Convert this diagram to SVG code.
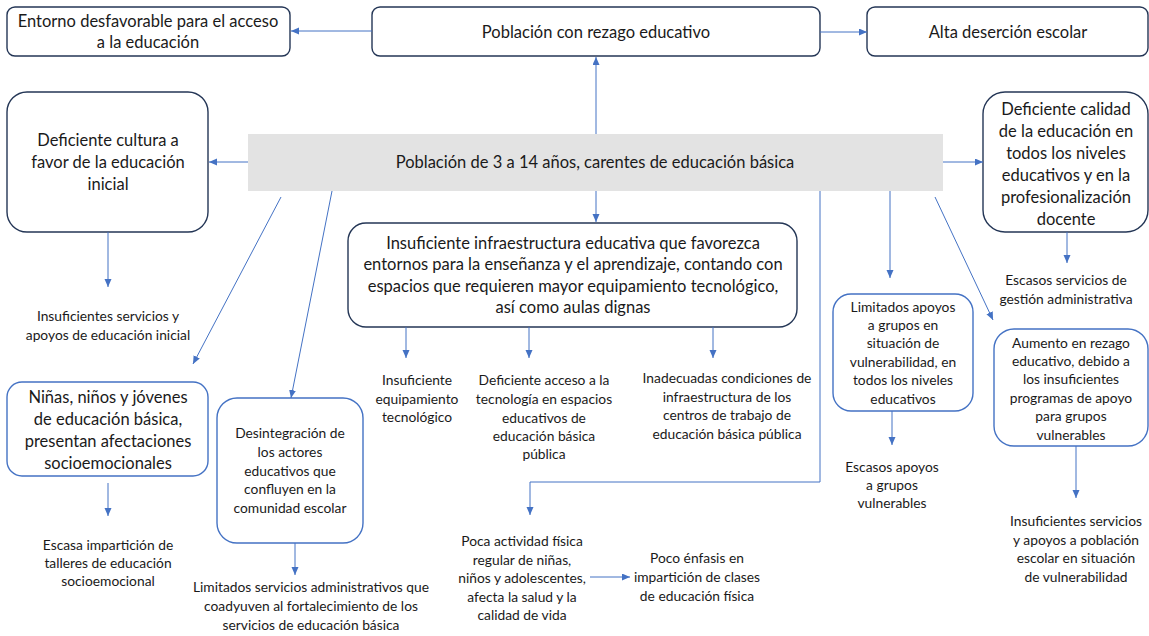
<svg xmlns="http://www.w3.org/2000/svg" width="1149" height="636" viewBox="0 0 1149 636">
<style>
.bg{fill:#ffffff}
.dk{fill:#ffffff;stroke:#243656;stroke-width:1.4}
.bl{fill:#ffffff;stroke:#4472c4;stroke-width:1.4}
.gr{fill:#e3e3e3;stroke:none}
.t{font-family:Lato,"Open Sans","Liberation Sans",sans-serif;fill:#1a1a1a;text-anchor:middle}
.L{font-size:16.5px}
.S{font-size:13.8px}
.c{fill:none;stroke:#4472c4;stroke-width:1}
</style>
<defs>
<marker id="ah" markerUnits="userSpaceOnUse" markerWidth="9" markerHeight="8" refX="8" refY="3.5" orient="auto">
<path d="M0,0 L8,3.5 L0,7 z" fill="#4472c4"/>
</marker>
</defs>
<rect class="bg" width="1149" height="636"/>

<g id="entorno">
<rect class="dk" x="7" y="7" width="283" height="49" rx="8"/>
<text class="t L" x="148" y="27">Entorno desfavorable para el acceso</text>
<text class="t L" x="148" y="48">a la educación</text>
</g>
<g id="poblacion-rezago">
<rect class="dk" x="372" y="7" width="448" height="49" rx="8"/>
<text class="t L" x="596" y="38">Población con rezago educativo</text>
</g>
<g id="alta-desercion">
<rect class="dk" x="867" y="7" width="281" height="49" rx="8"/>
<text class="t L" x="1008" y="38">Alta deserción escolar</text>
</g>
<g id="poblacion-central">
<rect class="gr" x="248" y="134" width="695" height="57"/>
<text class="t L" x="595" y="168">Población de 3 a 14 años, carentes de educación básica</text>
</g>
<g id="deficiente-cultura">
<rect class="dk" x="7" y="92" width="201" height="140" rx="20"/>
<text class="t L" x="108" y="146">Deficiente cultura a</text>
<text class="t L" x="108" y="168">favor de la educación</text>
<text class="t L" x="108" y="190">inicial</text>
</g>
<g id="insuf-inicial">
<text class="t S" x="108" y="321">Insuficientes servicios y</text>
<text class="t S" x="108" y="340">apoyos de educación inicial</text>
</g>
<g id="ninas">
<rect class="bl" x="7" y="382" width="201" height="94" rx="15"/>
<text class="t L" x="108" y="403">Niñas, niños y jóvenes</text>
<text class="t L" x="108" y="425">de educación básica,</text>
<text class="t L" x="108" y="447">presentan afectaciones</text>
<text class="t L" x="108" y="469">socioemocionales</text>
</g>
<g id="escasa-talleres">
<text class="t S" x="108" y="550">Escasa impartición de</text>
<text class="t S" x="108" y="568">talleres de educación</text>
<text class="t S" x="108" y="586">socioemocional</text>
</g>
<g id="desintegracion">
<rect class="bl" x="217" y="398" width="146" height="145" rx="20"/>
<text class="t S" x="290" y="438">Desintegración de</text>
<text class="t S" x="290" y="457">los actores</text>
<text class="t S" x="290" y="476">educativos que</text>
<text class="t S" x="290" y="494">confluyen en la</text>
<text class="t S" x="290" y="513">comunidad escolar</text>
</g>
<g id="limitados-admin">
<text class="t S" x="311" y="592">Limitados servicios administrativos que</text>
<text class="t S" x="311" y="611">coadyuven al fortalecimiento de los</text>
<text class="t S" x="311" y="630">servicios de educación básica</text>
</g>
<g id="infraestructura">
<rect class="dk" x="348" y="223" width="449" height="104" rx="18"/>
<text class="t L" x="573" y="249">Insuficiente infraestructura educativa que favorezca</text>
<text class="t L" x="573" y="270">entornos para la enseñanza y el aprendizaje, contando con</text>
<text class="t L" x="573" y="292">espacios que requieren mayor equipamiento tecnológico,</text>
<text class="t L" x="573" y="313">así como aulas dignas</text>
</g>
<g id="insuf-equip">
<text class="t S" x="417" y="385">Insuficiente</text>
<text class="t S" x="417" y="404">equipamiento</text>
<text class="t S" x="417" y="422">tecnológico</text>
</g>
<g id="def-acceso">
<text class="t S" x="544" y="385">Deficiente acceso a la</text>
<text class="t S" x="544" y="404">tecnología en espacios</text>
<text class="t S" x="544" y="423">educativos de</text>
<text class="t S" x="544" y="441">educación básica</text>
<text class="t S" x="544" y="459">pública</text>
</g>
<g id="inadecuadas">
<text class="t S" x="727" y="383">Inadecuadas condiciones de</text>
<text class="t S" x="727" y="402">infraestructura de los</text>
<text class="t S" x="727" y="420">centros de trabajo de</text>
<text class="t S" x="727" y="439">educación básica pública</text>
</g>
<g id="poca-actividad">
<text class="t S" x="522" y="546">Poca actividad física</text>
<text class="t S" x="522" y="565">regular de niñas,</text>
<text class="t S" x="522" y="583">niños y adolescentes,</text>
<text class="t S" x="522" y="602">afecta la salud y la</text>
<text class="t S" x="522" y="620">calidad de vida</text>
</g>
<g id="poco-enfasis">
<text class="t S" x="697" y="563">Poco énfasis en</text>
<text class="t S" x="697" y="582">impartición de clases</text>
<text class="t S" x="697" y="601">de educación física</text>
</g>
<g id="limitados-apoyos">
<rect class="bl" x="833" y="294" width="140" height="117" rx="18"/>
<text class="t S" x="903" y="312">Limitados apoyos</text>
<text class="t S" x="903" y="330">a grupos en</text>
<text class="t S" x="903" y="348">situación de</text>
<text class="t S" x="903" y="367">vulnerabilidad, en</text>
<text class="t S" x="903" y="385">todos los niveles</text>
<text class="t S" x="903" y="404">educativos</text>
</g>
<g id="escasos-apoyos">
<text class="t S" x="892" y="472">Escasos apoyos</text>
<text class="t S" x="892" y="490">a grupos</text>
<text class="t S" x="892" y="508">vulnerables</text>
</g>
<g id="deficiente-calidad">
<rect class="dk" x="983" y="92" width="165" height="140" rx="22"/>
<text class="t L" x="1066" y="115">Deficiente calidad</text>
<text class="t L" x="1066" y="137">de la educación en</text>
<text class="t L" x="1066" y="159">todos los niveles</text>
<text class="t L" x="1066" y="181">educativos y en la</text>
<text class="t L" x="1066" y="203">profesionalización</text>
<text class="t L" x="1066" y="225">docente</text>
</g>
<g id="escasos-gestion">
<text class="t S" x="1066" y="285">Escasos servicios de</text>
<text class="t S" x="1066" y="304">gestión administrativa</text>
</g>
<g id="aumento-rezago">
<rect class="bl" x="994" y="329" width="154" height="117" rx="20"/>
<text class="t S" x="1071" y="348">Aumento en rezago</text>
<text class="t S" x="1071" y="366">educativo, debido a</text>
<text class="t S" x="1071" y="384">los insuficientes</text>
<text class="t S" x="1071" y="403">programas de apoyo</text>
<text class="t S" x="1071" y="421">para grupos</text>
<text class="t S" x="1071" y="440">vulnerables</text>
</g>
<g id="insuf-poblacion">
<text class="t S" x="1076" y="526">Insuficientes servicios</text>
<text class="t S" x="1076" y="545">y apoyos a población</text>
<text class="t S" x="1076" y="563">escolar en situación</text>
<text class="t S" x="1076" y="582">de vulnerabilidad</text>
</g>

<g id="connectors">
<path class="c" marker-end="url(#ah)" d="M372,31 L291,31"/>
<path class="c" marker-end="url(#ah)" d="M820,32 L867,32"/>
<path class="c" marker-end="url(#ah)" d="M596,134 L596,57"/>
<path class="c" marker-end="url(#ah)" d="M248,162 L209,162"/>
<path class="c" marker-end="url(#ah)" d="M943,162 L983,162"/>
<path class="c" marker-end="url(#ah)" d="M596,191 L596,222"/>
<path class="c" marker-end="url(#ah)" d="M108,232 L108,287"/>
<path class="c" marker-end="url(#ah)" d="M281,197 L193,364"/>
<path class="c" marker-end="url(#ah)" d="M332,191 L291,398"/>
<path class="c" marker-end="url(#ah)" d="M108,483 L108,516"/>
<path class="c" marker-end="url(#ah)" d="M295,543 L295,575"/>
<path class="c" marker-end="url(#ah)" d="M406,327 L406,358"/>
<path class="c" marker-end="url(#ah)" d="M529,327 L529,358"/>
<path class="c" marker-end="url(#ah)" d="M713,327 L713,358"/>
<path class="c" marker-end="url(#ah)" d="M820,191 L820,482 L530,482 L530,515"/>
<path class="c" marker-end="url(#ah)" d="M590,577 L630,577"/>
<path class="c" marker-end="url(#ah)" d="M890,191 L890,278"/>
<path class="c" marker-end="url(#ah)" d="M892,411 L892,445"/>
<path class="c" marker-end="url(#ah)" d="M935,197 L993,320"/>
<path class="c" marker-end="url(#ah)" d="M1067,232 L1067,263"/>
<path class="c" marker-end="url(#ah)" d="M1076,446 L1076,498"/>
</g>
</svg>
